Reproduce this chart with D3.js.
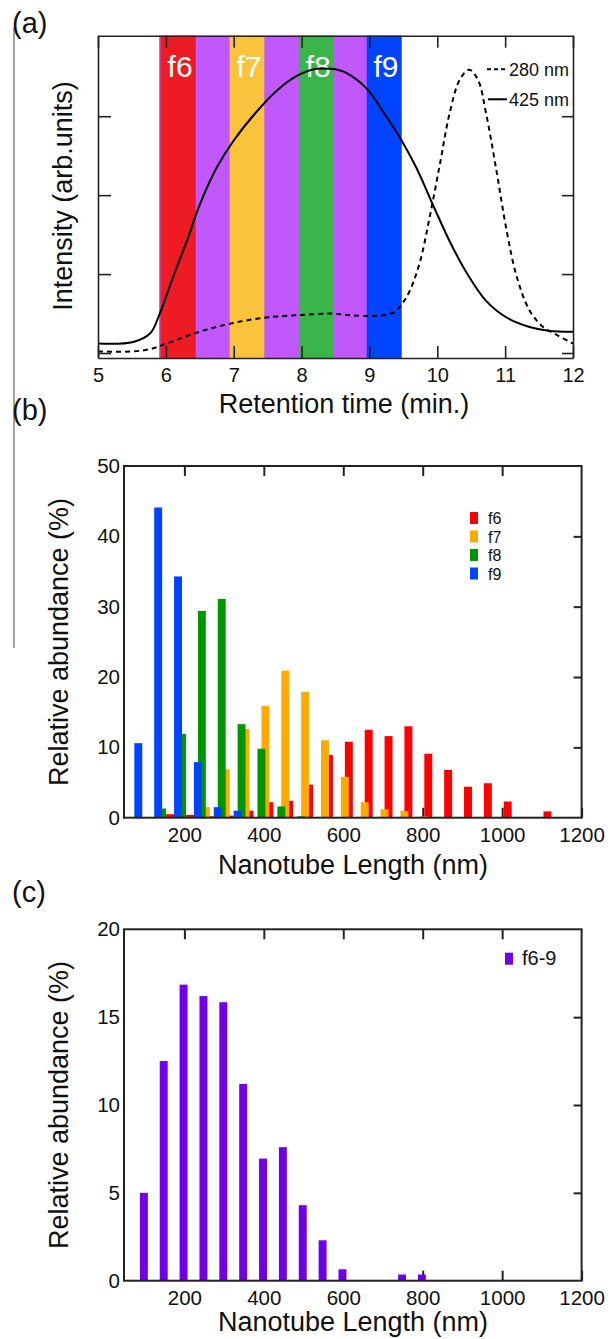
<!DOCTYPE html>
<html>
<head>
<meta charset="utf-8">
<script src="https://cdn.jsdelivr.net/npm/d3@7"></script>
<style>
body{margin:0;background:#fff;}
svg text{font-family:"Liberation Sans",Arial,Helvetica,sans-serif;fill:#111;}
</style>
</head>
<body>
<script>
// ---- panel (a): chromatogram ----
var time425 = [5.0,5.52,5.77,5.91,6.11,6.31,6.5,6.75,6.99,7.34,7.63,7.93,8.22,8.42,8.52,8.66,8.96,9.2,9.47,9.69,9.95,10.18,10.43,10.72,11.02,11.36,11.66,12.0];
var int425 = [0.12,0.14,0.25,0.50,0.97,1.42,1.88,2.35,2.68,3.06,3.32,3.51,3.60,3.60,3.59,3.55,3.35,3.06,2.70,2.35,1.85,1.42,1.02,0.66,0.45,0.33,0.28,0.27];
var time280 = [5.0,5.5,5.77,6.01,6.5,6.99,7.48,7.97,8.42,8.71,9.05,9.35,9.47,9.59,9.74,9.89,10.04,10.18,10.33,10.47,10.6,10.72,10.87,11.02,11.17,11.36,11.56,11.76,12.0];
var int280 = [0.02,0.02,0.05,0.12,0.27,0.38,0.45,0.48,0.50,0.48,0.47,0.51,0.61,0.78,1.14,1.73,2.40,3.03,3.46,3.59,3.46,3.03,2.32,1.56,0.97,0.54,0.33,0.23,0.12];
var fracNames = ["f6","f7","f8","f9"];
var fracStart = [5.92,6.94,7.96,8.96];
var fracEnd = [6.44,7.45,8.47,9.47];
var fracColors = ["#ed1c24","#f9c43c","#39b54a","#0044ff"];
var collectSpan = [5.90,9.48];
var timeTicks = [5,6,7,8,9,10,11,12];

// ---- panel (b): length histograms per fraction ----
var lengthBins = [100,150,200,250,300,350,400,450,500,550,600,650,700,750,800,850,900,950,1000,1050,1100];
var f6 = [0,0.5,0.4,0.2,0.3,1.0,2.2,2.4,4.7,8.9,10.8,12.5,11.6,13.0,9.1,6.8,4.4,4.9,2.3,0.1,0.9];
var f7 = [0,0,0,1.5,6.9,12.6,15.9,20.9,17.9,11.0,5.8,2.2,1.2,0.95,0.2,0,0,0,0,0,0];
var f8 = [0,1.3,11.9,29.4,31.1,13.3,9.8,1.6,0.2,0,0,0,0,0,0,0,0,0,0,0,0];
var f9 = [10.6,44.1,34.3,7.9,1.5,1.0,0,0,0,0,0,0,0,0,0,0,0,0,0,0,0];
var seriesNames = ["f6","f7","f8","f9"];
var seriesColors = ["#ff0000","#ffaa00","#009600","#0044ff"];
var seriesShift = [14,4,-6,-16];   // nm offset of each series inside a bin

// ---- panel (c): combined f6-9 ----
var combinedBins = [100,150,200,250,300,350,400,450,500,550,600,650,700,750,800];
var f69 = [5.0,12.5,16.85,16.2,15.85,11.2,6.95,7.6,4.3,2.3,0.65,0,0,0.35,0.35];

var lengthTicks = [200,400,600,800,1000,1200];

var svg = d3.select("body").append("svg").attr("width",616).attr("height",1339);

svg.append("line").attr("x1",14).attr("x2",14).attr("y1",28).attr("y2",648)
    .attr("stroke","#444").attr("stroke-width",1);

// ================= (a) =================
var xA = d3.scaleLinear().domain([5,12]).range([98,573]);
var yA = d3.scaleLinear().domain([-0.063,4.02]).range([358,35.7]);

svg.append("text").attr("x",12).attr("y",33).attr("font-size",29).text("(a)");

var gA = svg.append("g");
gA.append("rect").attr("x",xA(collectSpan[0])).attr("y",yA.range()[1])
    .attr("width",xA(collectSpan[1])-xA(collectSpan[0])).attr("height",yA.range()[0]-yA.range()[1])
    .attr("fill","#c158fc");
gA.selectAll("rect.frac").data(fracNames).enter().append("rect")
    .attr("class","frac")
    .attr("x",function(d,i){return xA(fracStart[i]);})
    .attr("y",yA.range()[1])
    .attr("width",function(d,i){return xA(fracEnd[i])-xA(fracStart[i]);})
    .attr("height",yA.range()[0]-yA.range()[1])
    .attr("fill",function(d,i){return fracColors[i];});
gA.selectAll("text.frac").data(fracNames).enter().append("text")
    .attr("class","frac")
    .attr("x",function(d,i){return xA((fracStart[i]+fracEnd[i])/2)+2;})
    .attr("y",77)
    .attr("text-anchor","middle").attr("font-size",30)
    .style("fill","#fff")
    .text(function(d){return d;});

var lineA = d3.line().x(function(d){return xA(d[0]);}).y(function(d){return yA(d[1]);})
    .curve(d3.curveCatmullRom.alpha(0.5));
gA.append("path").datum(d3.zip(time425,int425)).attr("d",lineA)
    .attr("fill","none").attr("stroke","#000").attr("stroke-width",2);
gA.append("path").datum(d3.zip(time280,int280)).attr("d",lineA)
    .attr("fill","none").attr("stroke","#000").attr("stroke-width",2).attr("stroke-dasharray","5,4");

function styleAxis(g,w){
  g.selectAll("path.domain").attr("stroke","#222").attr("stroke-width",w);
  g.selectAll(".tick line").attr("stroke","#222").attr("stroke-width",w);
  g.selectAll(".tick text").style("fill","#111");
}
var fmt = d3.format("d");
var axA = [
  gA.append("g").attr("transform","translate(0,358)")
    .call(d3.axisBottom(xA).tickValues(timeTicks).tickFormat(fmt).tickSizeInner(-12).tickSizeOuter(0).tickPadding(9.5)),
  gA.append("g").attr("transform","translate(0,35.7)")
    .call(d3.axisTop(xA).tickValues(timeTicks).tickSizeInner(-12).tickSizeOuter(0).tickFormat("")),
  gA.append("g").attr("transform","translate(98,0)")
    .call(d3.axisLeft(yA).tickValues([0,1,2,3]).tickSizeInner(-13).tickSizeOuter(0).tickFormat("")),
  gA.append("g").attr("transform","translate(573,0)")
    .call(d3.axisRight(yA).tickValues([0,1,2,3]).tickSizeInner(-11).tickSizeOuter(0).tickFormat(""))
];
axA.forEach(function(g){
  styleAxis(g,1.6);
  g.selectAll(".tick text").attr("font-size",20).attr("font-family",null);
});

gA.append("text").attr("x",344).attr("y",413).attr("text-anchor","middle").attr("font-size",27)
    .text("Retention time (min.)");
gA.append("text").attr("transform","translate(72,196) rotate(-90)").attr("text-anchor","middle")
    .attr("font-size",27).text("Intensity (arb.units)");

// legend (a)
gA.append("line").attr("x1",487).attr("x2",507).attr("y1",69.3).attr("y2",69.3)
    .attr("stroke","#000").attr("stroke-width",2).attr("stroke-dasharray","4,3");
gA.append("text").attr("x",509).attr("y",75.5).attr("font-size",18).text("280 nm");
gA.append("line").attr("x1",488).attr("x2",507).attr("y1",99.3).attr("y2",99.3)
    .attr("stroke","#000").attr("stroke-width",2);
gA.append("text").attr("x",509).attr("y",105.5).attr("font-size",18).text("425 nm");

// ============ histogram panels ============
function histFrame(g,x,y,yTicks,innerY){
  var x0=x.range()[0], x1=x.range()[1], yb=y.range()[0], yt=y.range()[1];
  var axes = [
    g.append("g").attr("transform","translate(0,"+yb+")")
      .call(d3.axisBottom(x).tickValues(lengthTicks).tickFormat(fmt).tickSizeInner(-10).tickSizeOuter(0).tickPadding(9.5)),
    g.append("g").attr("transform","translate(0,"+yt+")")
      .call(d3.axisTop(x).tickValues(lengthTicks.slice(0,-1)).tickSizeInner(-10).tickSizeOuter(0).tickFormat("")),
    g.append("g").attr("transform","translate("+x0+",0)")
      .call(d3.axisLeft(y).tickValues(yTicks).tickFormat(fmt).tickSize(0).tickPadding(4)),
    g.append("g").attr("transform","translate("+x1+",0)")
      .call(d3.axisRight(y).tickValues(innerY).tickSizeInner(-8).tickSizeOuter(0).tickFormat(""))
  ];
  axes.forEach(function(a){
    styleAxis(a,2);
    a.select("path.domain").remove();
    a.selectAll(".tick text").attr("font-size",20.5).attr("font-family",null);
  });
}
function histBox(g,x,y){
  g.append("rect").attr("x",x.range()[0]).attr("y",y.range()[1])
    .attr("width",x.range()[1]-x.range()[0]).attr("height",y.range()[0]-y.range()[1])
    .attr("fill","none").attr("stroke","#222").attr("stroke-width",2);
}

// ================= (b) =================
var xB = d3.scaleLinear().domain([48,1200]).range([124,581.6]);
var yB = d3.scaleLinear().domain([0,50]).range([817.7,466]);
var barW = xB(68)-xB(48);

svg.append("text").attr("x",12).attr("y",420).attr("font-size",29).text("(b)");
var gB = svg.append("g");
histFrame(gB,xB,yB,[0,10,20,30,40,50],[10,20,30,40]);

var seriesData = [f6,f7,f8,f9];
seriesData.forEach(function(vals,s){
  gB.selectAll("rect.s"+s).data(vals).enter().append("rect")
    .attr("class","s"+s)
    .attr("x",function(d,i){return xB(lengthBins[i]+seriesShift[s])-barW/2;})
    .attr("y",function(d){return yB(d);})
    .attr("width",barW)
    .attr("height",function(d){return yB(0)-yB(d);})
    .attr("fill",seriesColors[s]);
});
histBox(gB,xB,yB);

var legB = gB.selectAll("g.leg").data(seriesNames).enter().append("g").attr("class","leg")
    .attr("transform",function(d,i){return "translate(470,"+(518+i*18.5)+")";});
legB.append("rect").attr("x",0).attr("y",-6).attr("width",8).attr("height",12)
    .attr("fill",function(d,i){return seriesColors[i];});
legB.append("text").attr("x",18).attr("y",6).attr("font-size",16).text(function(d){return d;});

gB.append("text").attr("x",353).attr("y",874).attr("text-anchor","middle").attr("font-size",27)
    .text("Nanotube Length (nm)");
gB.append("text").attr("transform","translate(67.5,642) rotate(-90)").attr("text-anchor","middle")
    .attr("font-size",27).text("Relative abundance (%)");

// ================= (c) =================
var xC = d3.scaleLinear().domain([48,1200]).range([124,581.6]);
var yC = d3.scaleLinear().domain([0,20]).range([1280.7,929.3]);

svg.append("text").attr("x",12).attr("y",902).attr("font-size",29).text("(c)");
var gC = svg.append("g");
histFrame(gC,xC,yC,[0,5,10,15,20],[5,10,15]);

gC.selectAll("rect.bar").data(f69).enter().append("rect")
    .attr("class","bar")
    .attr("x",function(d,i){return xC(combinedBins[i]-2)-barW/2;})
    .attr("y",function(d){return yC(d);})
    .attr("width",barW)
    .attr("height",function(d){return yC(0)-yC(d);})
    .attr("fill","#6f00e8");
histBox(gC,xC,yC);

gC.append("rect").attr("x",505).attr("y",952.7).attr("width",8).attr("height",12).attr("fill","#6f00e8");
gC.append("text").attr("x",522).attr("y",965).attr("font-size",20).text("f6-9");

gC.append("text").attr("x",353).attr("y",1331).attr("text-anchor","middle").attr("font-size",27)
    .text("Nanotube Length (nm)");
gC.append("text").attr("transform","translate(67.5,1105) rotate(-90)").attr("text-anchor","middle")
    .attr("font-size",27).text("Relative abundance (%)");
</script>
</body>
</html>
